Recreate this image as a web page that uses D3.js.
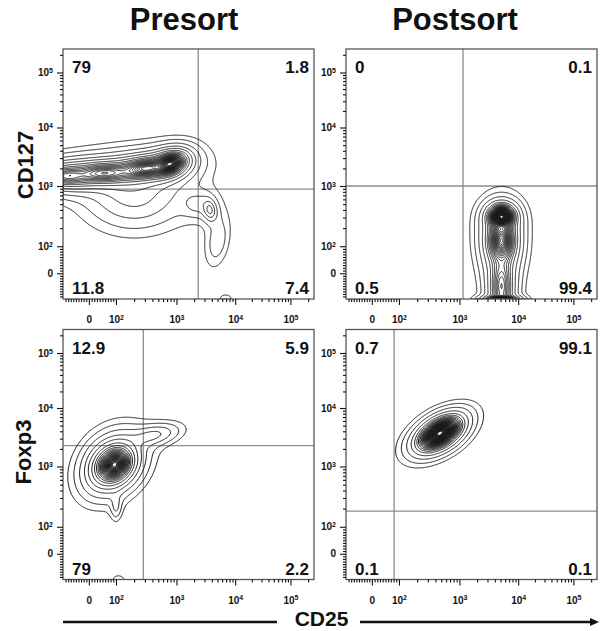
<!DOCTYPE html>
<html><head><meta charset="utf-8">
<script src="https://cdn.jsdelivr.net/npm/d3@7/dist/d3.min.js"></script>
<style>
body{margin:0;background:#fff;}
svg{display:block;font-family:"Liberation Sans",Arial,Helvetica,sans-serif;}
</style></head><body>
<svg id="chart" width="600" height="631"></svg>
<script>
// ---------------- data ----------------
const columnTitles = ["Presort", "Postsort"];
const rowMarkers = ["CD127", "Foxp3"];
const xMarker = "CD25";
const axisStops = [-100, 0, 100, 1000, 10000, 100000, 251189];
const majorTicks = [0, 100, 1000, 10000, 100000];
const majorTickLabels = [["0", ""], ["10", "2"], ["10", "3"], ["10", "4"], ["10", "5"]];
const minorTicks = [-90, -80, -70, -60, -50, -40, -30, -20, -10, 10, 20, 30, 40, 50, 60, 70, 80, 90,
  200, 300, 400, 500, 600, 700, 800, 900, 2000, 3000, 4000, 5000, 6000, 7000, 8000, 9000,
  20000, 30000, 40000, 50000, 60000, 70000, 80000, 90000, 200000];

// quadrant percentages: [upper-left, upper-right, lower-left, lower-right]
const quadPresortCD127 = ["79", "1.8", "11.8", "7.4"];
const quadPostsortCD127 = ["0", "0.1", "0.5", "99.4"];
const quadPresortFoxp3 = ["12.9", "5.9", "79", "2.2"];
const quadPostsortFoxp3 = ["0.7", "99.1", "0.1", "0.1"];

// quadrant gates: [CD25 cut, marker cut]
const gatePresortCD127 = [2350, 890];
const gatePostsortCD127 = [1150, 1000];
const gatePresortFoxp3 = [283, 2270];
const gatePostsortFoxp3 = [82, 182];

// cell populations: centre (CD25, marker), spread in decades, correlation, weight
const popPresortCD127 = [
  { x: 790, y: 2400, sx: 0.11, sy: 0.08, r: 0.25, w: 1 },
  { x: 316, y: 2000, sx: 0.2, sy: 0.085, r: 0.2, w: 0.55 },
  { x: 57, y: 1660, sx: 0.28, sy: 0.09, r: 0.1, w: 0.4 },
  { x: -85, y: 1480, sx: 0.22, sy: 0.09, r: 0, w: 0.3 },
  { x: 200, y: 710, sx: 0.4, sy: 0.28, r: 0, w: 0.04 },
  { x: 2240, y: 500, sx: 0.15, sy: 0.12, r: 0, w: 0.02 },
  { x: 3700, y: 400, sx: 0.06, sy: 0.09, r: -0.2, w: 0.06 },
  { x: 5000, y: 120, sx: 0.12, sy: 0.25, r: 0.3, w: 0.014 },
  { x: 6900, y: -100, sx: 0.08, sy: 0.06, r: 0, w: 0.008 }
];
const popPostsortCD127 = [
  { x: 5200, y: 310, sx: 0.08, sy: 0.07, r: 0, w: 1 },
  { x: 5200, y: 126, sx: 0.11, sy: 0.17, r: 0, w: 0.4 },
  { x: 5200, y: -52, sx: 0.1, sy: 0.3, r: 0, w: 0.2 },
  { x: 5200, y: -100, sx: 0.1, sy: 0.02, r: 0, w: 0.5 }
];
const popPresortFoxp3 = [
  { x: 96, y: 1070, sx: 0.11, sy: 0.11, r: 0.2, w: 1 },
  { x: 78, y: 1120, sx: 0.18, sy: 0.19, r: 0.3, w: 0.2 },
  { x: 400, y: 3400, sx: 0.22, sy: 0.1, r: 0.4, w: 0.04 },
  { x: 100, y: 224, sx: 0.05, sy: 0.12, r: 0, w: 0.02 },
  { x: 110, y: -100, sx: 0.08, sy: 0.06, r: 0, w: 0.008 }
];
const popPostsortFoxp3 = [
  { x: 475, y: 3700, sx: 0.13, sy: 0.105, r: 0.5, w: 1 }
];

// contour levels as fractions of the peak density
const levelsPresort = [0.004, 0.008, 0.016, 0.03, 0.05, 0.08, 0.115, 0.15, 0.185, 0.22, 0.255, 0.29, 0.325, 0.36, 0.395, 0.43, 0.465, 0.5, 0.535, 0.57, 0.605, 0.64, 0.675, 0.71, 0.745, 0.78, 0.815, 0.85, 0.885, 0.92, 0.955];
const levelsPostsort = [0.004, 0.008, 0.016, 0.03, 0.05, 0.07, 0.09, 0.11, 0.13, 0.15, 0.17, 0.19, 0.21, 0.23, 0.25, 0.27, 0.29, 0.31, 0.33, 0.35, 0.37, 0.39, 0.41, 0.43, 0.45, 0.47, 0.49, 0.51, 0.53, 0.55, 0.57, 0.59, 0.61, 0.63, 0.65, 0.67, 0.69, 0.71, 0.73, 0.75, 0.77, 0.79, 0.81, 0.83, 0.85, 0.87, 0.89, 0.91, 0.93, 0.95];

// ---------------- drawing ----------------
const svg = d3.select("#chart");
const defs = svg.append("defs");
const fwd = v => v >= 100 ? Math.log10(v) : 2 - 0.46 * (100 - v) / 100;
const stopFrac = [0, 0.103, 0.211, 0.452, 0.686, 0.906, 1];
const axisScale = (r0, r1) => d3.scaleLinear().domain(axisStops.map(fwd)).range(stopFrac.map(p => r0 + p * (r1 - r0)));
const kernel = q => Math.pow(1 + q / 6, -3);

const colLeft = [63, 346], rowTop = [49, 329.5], PW = 251, PH = 250;
const panels = [
  { col: 0, row: 0, pop: popPresortCD127, levels: levelsPresort, gate: gatePresortCD127, quad: quadPresortCD127 },
  { col: 1, row: 0, pop: popPostsortCD127, levels: levelsPostsort, gate: gatePostsortCD127, quad: quadPostsortCD127 },
  { col: 0, row: 1, pop: popPresortFoxp3, levels: levelsPresort, gate: gatePresortFoxp3, quad: quadPresortFoxp3 },
  { col: 1, row: 1, pop: popPostsortFoxp3, levels: levelsPostsort, gate: gatePostsortFoxp3, quad: quadPostsortFoxp3 }
];

function styleLabels(sel) {
  sel.selectAll(".tick text").each(function (d, i) {
    const t = d3.select(this);
    const lab = majorTickLabels[i];
    t.text(null);
    t.append("tspan").text(lab[0]);
    if (lab[1]) t.append("tspan").attr("dy", "-0.45em").attr("font-size", "7px").text(lab[1]);
  });
}

panels.forEach((p, k) => {
  const left = colLeft[p.col], top = rowTop[p.row];
  const g = svg.append("g").attr("transform", `translate(${left},${top})`);
  const xT = axisScale(0, PW), yT = axisScale(PH, 0);
  const x = v => xT(fwd(v)), y = v => yT(fwd(v));

  defs.append("clipPath").attr("id", "clip" + k).append("rect").attr("width", PW).attr("height", PH);

  // gates
  const gg = g.append("g").attr("clip-path", `url(#clip${k})`).attr("stroke", "#8c8c8c").attr("stroke-width", 1.3);
  gg.append("line").attr("x1", x(p.gate[0])).attr("x2", x(p.gate[0])).attr("y1", 0).attr("y2", PH);
  gg.append("line").attr("x1", 0).attr("x2", PW).attr("y1", y(p.gate[1])).attr("y2", y(p.gate[1]));

  // density grid from population components
  const comps = p.pop.map(c => ({ mx: fwd(c.x), my: fwd(c.y), sx: c.sx, sy: c.sy, r: c.r, w: c.w }));
  const vals = new Float64Array(PW * PH);
  let max = 0;
  for (let j = 0; j < PH; j++) {
    const ty = yT.invert(j + 0.5);
    for (let i = 0; i < PW; i++) {
      const tx = xT.invert(i + 0.5);
      let s = 0;
      for (const c of comps) {
        const dx = (tx - c.mx) / c.sx, dy = (ty - c.my) / c.sy;
        const q = (dx * dx - 2 * c.r * dx * dy + dy * dy) / (1 - c.r * c.r);
        s += c.w * kernel(q);
      }
      vals[j * PW + i] = s;
      if (s > max) max = s;
    }
  }
  const contours = d3.contours().size([PW, PH]).thresholds(p.levels.map(l => l * max))(vals);
  g.append("g").attr("clip-path", `url(#clip${k})`)
    .selectAll("path").data(contours).join("path")
    .attr("d", d3.geoPath())
    .attr("fill", "none").attr("stroke", "#1a1a1a").attr("stroke-width", 0.95);

  // frame
  g.append("rect").attr("width", PW).attr("height", PH).attr("fill", "none").attr("stroke", "#555").attr("stroke-width", 1.3);

  // axes
  const xAx = g.append("g").attr("transform", `translate(0,${PH})`)
    .call(d3.axisBottom(xT).tickValues(majorTicks.map(fwd)).tickSize(6).tickPadding(11));
  const xMin = g.append("g").attr("transform", `translate(0,${PH})`)
    .call(d3.axisBottom(xT).tickValues(minorTicks.map(fwd)).tickSize(3).tickFormat(""));
  const yAx = g.append("g").call(d3.axisLeft(yT).tickValues(majorTicks.map(fwd)).tickSize(6).tickPadding(4));
  const yMin = g.append("g").call(d3.axisLeft(yT).tickValues(minorTicks.map(fwd)).tickSize(3).tickFormat(""));
  [xAx, xMin, yAx, yMin].forEach(a => {
    a.select(".domain").remove();
    a.selectAll("line").attr("stroke", "#111").attr("stroke-width", 1.1);
    a.selectAll("text").attr("font-size", "10px").attr("font-weight", "bold").attr("fill", "#111").attr("font-family", "'Liberation Sans',Arial,sans-serif");
  });
  styleLabels(xAx); styleLabels(yAx);

  // quadrant labels
  const pos = [[9, 24, "start"], [PW - 5, 24, "end"], [9, PH - 5, "start"], [PW - 5, PH - 5, "end"]];
  p.quad.forEach((q, i) => {
    g.append("text").attr("x", pos[i][0]).attr("y", pos[i][1]).attr("text-anchor", pos[i][2])
      .attr("font-size", "17px").attr("font-weight", "bold").attr("fill", "#111").text(q);
  });
});

// column titles
[184, 455].forEach((cx, i) => {
  svg.append("text").attr("x", cx).attr("y", 30).attr("text-anchor", "middle")
    .attr("font-size", "31px").attr("font-weight", "bold").attr("fill", "#111").text(columnTitles[i]);
});
// row markers
[[33, 165], [31, 452]].forEach(([cx, cy], i) => {
  svg.append("text").attr("transform", `translate(${cx},${cy}) rotate(-90)`).attr("text-anchor", "middle")
    .attr("font-size", "22px").attr("font-weight", "bold").attr("fill", "#111").text(rowMarkers[i]);
});
// x marker with arrow
svg.append("line").attr("x1", 63).attr("x2", 277).attr("y1", 622).attr("y2", 622).attr("stroke", "#111").attr("stroke-width", 2.5);
svg.append("line").attr("x1", 360).attr("x2", 592).attr("y1", 622).attr("y2", 622).attr("stroke", "#111").attr("stroke-width", 2.5);
svg.append("path").attr("d", "M599,622 L590,618 L590,626 Z").attr("fill", "#111");
svg.append("text").attr("x", 321.5).attr("y", 626).attr("text-anchor", "middle")
  .attr("font-size", "21px").attr("font-weight", "bold").attr("fill", "#111").text(xMarker);
</script>
</body></html>
